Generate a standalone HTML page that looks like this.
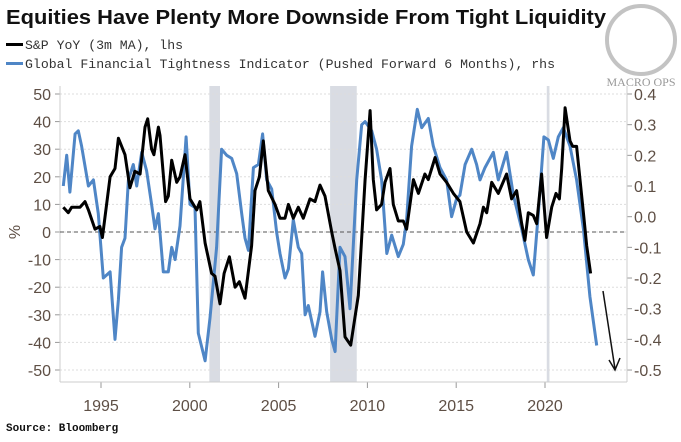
<!DOCTYPE html>
<html><head><meta charset="utf-8">
<style>
body{margin:0;background:#fff;width:681px;height:442px;overflow:hidden;font-family:"Liberation Sans",sans-serif}
svg{display:block}
</style></head><body>
<svg id="chart" width="681" height="442" viewBox="0 0 681 442">
  <text x="6" y="24" font-family="Liberation Sans, sans-serif" font-weight="bold" font-size="20" fill="#111" textLength="600" lengthAdjust="spacingAndGlyphs">Equities Have Plenty More Downside From Tight Liquidity</text>
  <g>
    <g>
      <rect x="6" y="43" width="17" height="3" fill="#000"/>
      <text x="25" y="49" font-family="Liberation Mono, monospace" font-size="13" fill="#333" textLength="158" lengthAdjust="spacingAndGlyphs">S&amp;P YoY (3m MA), lhs</text>
    </g>
    <g>
      <rect x="6" y="62" width="17" height="3" fill="#4f86c6"/>
      <text x="25" y="68" font-family="Liberation Mono, monospace" font-size="13" fill="#333" textLength="530" lengthAdjust="spacingAndGlyphs">Global Financial Tightness Indicator (Pushed Forward 6 Months), rhs</text>
    </g>
  </g>
  <g>
    <circle cx="641" cy="40" r="34" fill="none" stroke="#aaa" stroke-width="4" opacity="0.7"/>
    <text x="641" y="86" text-anchor="middle" font-family="Liberation Serif, serif" font-size="12" fill="#999">MACRO OPS</text>
  </g>
  <g id="plot"></g>
  <text x="6" y="431" font-family="Liberation Mono, monospace" font-weight="bold" font-size="11" fill="#111">Source: Bloomberg</text>
</svg>
<script>
const spYears=[1992.88,1993.16,1993.35,1993.82,1994.10,1994.29,1994.66,1994.94,1995.08,1995.51,1995.79,1995.98,1996.35,1996.63,1996.91,1997.20,1997.48,1997.63,1997.85,1997.98,1998.23,1998.32,1998.64,1998.79,1998.98,1999.26,1999.45,1999.73,2000.01,2000.39,2000.57,2000.86,2001.23,2001.42,2001.70,2001.93,2002.23,2002.55,2002.79,2003.11,2003.48,2003.67,2003.92,2004.14,2004.42,2004.80,2005.08,2005.36,2005.55,2005.83,2006.11,2006.39,2006.77,2007.05,2007.33,2007.61,2007.99,2008.18,2008.46,2008.74,2009.06,2009.49,2009.87,2010.15,2010.33,2010.52,2010.80,2010.99,2011.27,2011.46,2011.74,2012.02,2012.21,2012.59,2012.87,2013.24,2013.43,2013.81,2014.09,2014.46,2014.84,2015.21,2015.59,2015.97,2016.34,2016.53,2016.72,2017.00,2017.37,2017.84,2018.12,2018.40,2018.69,2018.87,2019.06,2019.34,2019.53,2019.81,2020.09,2020.38,2020.62,2020.81,2020.94,2021.13,2021.41,2021.56,2021.78,2022.16,2022.35,2022.57];
const spValues=[9,7,9,9,11,8,1,2,-2,20,23,34,28,16,22,21,38,41,30,28,38,35,11,13,26,18,20,28,12,8,11,-4,-15,-16,-26,-15,-9,-20,-18,-24,-5,15,20,33,15,10,5,5,10,5,9,5,12,11,17,13,0,-6,-14,-38,-41,-23,19,44,19,8,10,18,23,10,4,4,1,19,14,21,19,27,21,18,14,11,0,-4,3,9,7,18,14,21,12,15,3,-3,7,6,3,21,-2,9,14,12,23,45,33,31,31,7,-5,-15];
const gfYears=[1992.88,1993.07,1993.25,1993.54,1993.72,1993.91,1994.29,1994.57,1994.85,1995.13,1995.51,1995.79,1995.98,1996.16,1996.35,1996.54,1996.82,1997.01,1997.29,1997.57,1997.85,1998.04,1998.23,1998.51,1998.79,1998.98,1999.17,1999.45,1999.79,2000.01,2000.29,2000.48,2000.86,2001.14,2001.51,2001.79,2002.08,2002.36,2002.64,2002.92,2003.11,2003.30,2003.58,2003.86,2004.10,2004.33,2004.61,2004.89,2005.08,2005.36,2005.55,2005.83,2006.11,2006.30,2006.49,2006.67,2007.05,2007.33,2007.48,2007.71,2007.99,2008.18,2008.46,2008.74,2009.02,2009.40,2009.68,2009.87,2010.24,2010.52,2010.80,2011.09,2011.37,2011.74,2012.02,2012.21,2012.49,2012.81,2013.06,2013.43,2013.71,2014.09,2014.46,2014.74,2015.03,2015.21,2015.50,2015.87,2016.15,2016.34,2016.62,2017.09,2017.37,2017.84,2018.22,2018.69,2019.06,2019.34,2019.62,2019.94,2020.19,2020.47,2020.75,2021.03,2021.41,2021.78,2022.16,2022.53,2022.91];
const gfValues=[0.10,0.20,0.08,0.27,0.28,0.23,0.10,0.12,0.01,-0.20,-0.18,-0.40,-0.27,-0.10,-0.07,0.12,0.17,0.10,0.21,0.15,0.04,-0.04,0.01,-0.18,-0.18,-0.10,-0.14,-0.03,0.26,0.04,0.03,-0.38,-0.47,-0.33,-0.10,0.22,0.20,0.19,0.14,0.01,-0.07,-0.11,0.16,0.17,0.27,0.12,0.09,-0.05,-0.12,-0.20,-0.17,-0.01,-0.10,-0.12,-0.32,-0.29,-0.39,-0.31,-0.18,-0.31,-0.40,-0.44,-0.10,-0.13,-0.30,0.12,0.30,0.31,0.28,0.22,0.12,-0.12,-0.06,-0.13,-0.09,-0.01,0.23,0.35,0.29,0.32,0.23,0.16,0.12,0.00,0.06,0.07,0.17,0.22,0.17,0.12,0.16,0.21,0.12,0.21,0.07,-0.04,-0.14,-0.19,0.01,0.26,0.25,0.19,0.26,0.29,0.23,0.12,-0.04,-0.26,-0.42];
const recessionStarts=[2001.1,2007.9,2020.1];
const recessionEnds=[2001.7,2009.4,2020.25];
const leftTicks=[50,40,30,20,10,0,-10,-20,-30,-40,-50];
const rightTicks=[0.4,0.3,0.2,0.1,0.0,-0.1,-0.2,-0.3,-0.4,-0.5];
const xTicks=[1995,2000,2005,2010,2015,2020];

const X0=60,X1=627,YT=86,YB=382;
const xs=y=>101+(y-1995)*17.76;
const yl=v=>232-v*2.76;
const yr=r=>94+(0.4-r)*306.7;
const NS='http://www.w3.org/2000/svg';
const plot=document.getElementById('plot');
function mk(tag,attrs,parent){const e=document.createElementNS(NS,tag);for(const k in attrs)e.setAttribute(k,attrs[k]);(parent||plot).appendChild(e);return e;}

recessionStarts.forEach((s,i)=>{
  const r=mk('rect',{x:xs(s),y:YT,width:xs(recessionEnds[i])-xs(s),height:YB-YT,fill:'#d9dce3'});
  
  
});
leftTicks.forEach(v=>{
  const g=mk('line',{x1:X0,x2:X1,y1:yl(v),y2:yl(v),stroke:'#ddd','stroke-dasharray':'2,2'});
  
  
  mk('line',{x1:X0-5,x2:X0,y1:yl(v),y2:yl(v),stroke:'#999'});
  const t=mk('text',{x:X0-9,y:yl(v)+6,'text-anchor':'end','font-size':'16','fill':'#5e4f45','font-family':'Liberation Sans, sans-serif'});
  t.textContent=v;
  
  
});
rightTicks.forEach(r=>{
  mk('line',{x1:X1,x2:X1+5,y1:yr(r),y2:yr(r),stroke:'#999'});
  const t=mk('text',{x:X1+7,y:yr(r)+6,'font-size':'16','fill':'#5e4f45','font-family':'Liberation Sans, sans-serif'});
  t.textContent=r.toFixed(1);
  
  
});
xTicks.forEach(y=>{
  mk('line',{x1:xs(y),x2:xs(y),y1:YB,y2:YB+6,stroke:'#999'});
  const t=mk('text',{x:xs(y),y:YB+29,'text-anchor':'middle','font-size':'16','fill':'#5e4f45','font-family':'Liberation Sans, sans-serif'});
  t.textContent=y;
  
  
});
mk('line',{x1:X0,x2:X0,y1:YT,y2:YB,stroke:'#ccc'});
mk('line',{x1:X1,x2:X1,y1:YT,y2:YB,stroke:'#ccc'});
mk('line',{x1:X0,x2:X1,y1:YB,y2:YB,stroke:'#ccc'});
const zl=mk('line',{x1:X0,x2:X1,y1:yl(0),y2:yl(0),stroke:'#555','stroke-dasharray':'4,3'});


const yt=mk('text',{x:20,y:232,'text-anchor':'middle','font-size':'16','fill':'#5e4f45',transform:'rotate(-90 20 232)','font-family':'Liberation Sans, sans-serif'});
yt.textContent='%';



const gp=mk('path',{d:gfYears.map((y,i)=>(i?'L':'M')+xs(y).toFixed(1)+','+yr(gfValues[i]).toFixed(1)).join(''),fill:'none',stroke:'#4f86c6','stroke-width':'3','stroke-linejoin':'round'});


const sp=mk('path',{d:spYears.map((y,i)=>(i?'L':'M')+xs(y).toFixed(1)+','+yl(spValues[i]).toFixed(1)).join(''),fill:'none',stroke:'#000','stroke-width':'3','stroke-linejoin':'round'});



const ar=mk('g',{});


mk('line',{x1:603,y1:291,x2:615,y2:369,stroke:'#111','stroke-width':'1.5'},ar);
mk('path',{d:'M609,360 L615,370 L620,358',fill:'none',stroke:'#111','stroke-width':'1.5'},ar);
</script>
</body></html>
